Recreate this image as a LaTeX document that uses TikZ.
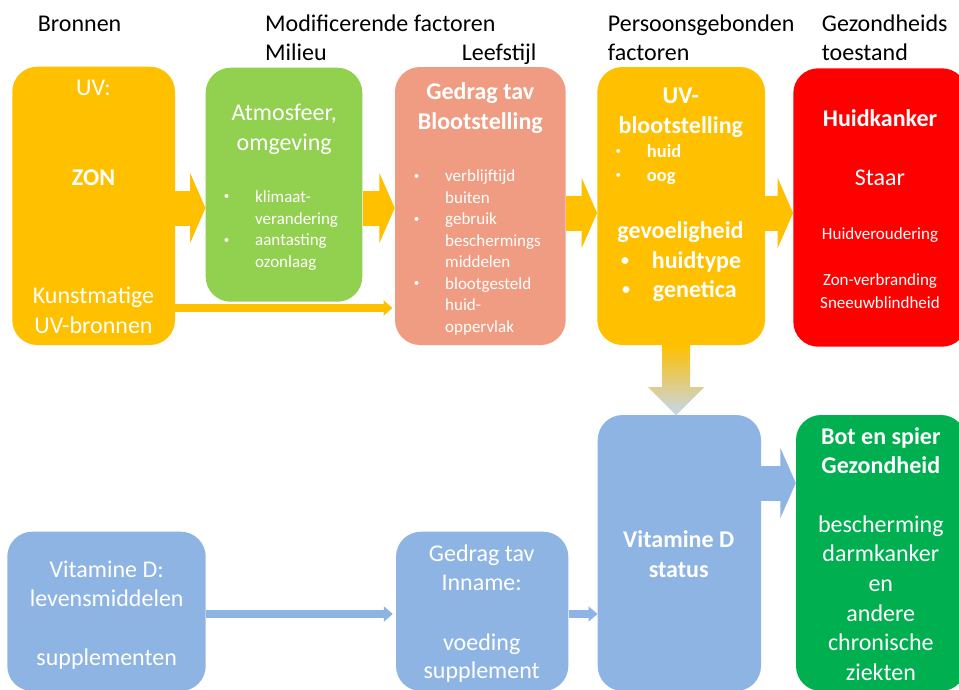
\documentclass[tikz,border=0pt]{standalone}
\usepackage{fontspec}
\setmainfont{Carlito}
\usetikzlibrary{arrows.meta,calc}
\definecolor{cyel}{HTML}{FFC000}
\definecolor{cgrn}{HTML}{92D050}
\definecolor{csal}{HTML}{F09C82}
\definecolor{cred}{HTML}{FF0000}
\definecolor{cblu}{HTML}{8EB4E3}
\definecolor{cdgr}{HTML}{00B050}
\definecolor{cpale}{HTML}{F3EFE8}
\definecolor{cpblu}{HTML}{C6D6EE}
\newcommand{\fbig}{\fontsize{24}{29}\selectfont}
\newcommand{\fsml}{\fontsize{17}{21}\selectfont}
\newcommand{\fmid}{\fontsize{18.5}{22}\selectfont}
\newcommand{\sbul}{\raisebox{2.5pt}{\fontsize{11}{11}\selectfont •}}
\newcommand{\bbul}{\raisebox{3pt}{\fontsize{16}{16}\selectfont\bfseries •}}
\begin{document}
\begin{tikzpicture}[x=1pt,y=-1pt,
 box/.style={rounded corners=25pt, inner sep=0pt, draw=none},
 ln/.style={anchor=base, inner sep=0pt, text=white},
 lnw/.style={anchor=base west, inner sep=0pt, text=white},
 big/.style={font=\fbig}, bigb/.style={font=\fbig\bfseries},
 sml/.style={font=\fsml}, smlb/.style={font=\fmid\bfseries},
 hdr/.style={anchor=base west, inner sep=0pt, font=\fbig, text=black},
 blk/.style={line width=35pt, -{Triangle[length=15.5pt,width=70pt]}},
 thinarr/.style={line width=8pt, -{Triangle[length=9pt,width=15pt]}}
]
\useasboundingbox (0,0) rectangle (959,689);
\clip (0,0) rectangle (959,689);
\fill[white] (0,0) rectangle (959,689);

% headers
\node[hdr] (h1) at (37.7,31.5) {Bronnen};
\node[hdr] (h2) at (265,31.5) {Modificerende factoren};
\node[hdr] (h3) at (265,60) {Milieu};
\node[hdr] (h4) at (461.7,60) {Leefstijl};
\node[hdr] (h5) at (607.7,31.5) {Persoonsgebonden};
\node[hdr] (h6) at (607.7,60) {factoren};
\node[hdr] (h7) at (821.7,31.5) {Gezondheids};
\node[hdr] (h8) at (821.7,60) {toestand};

% boxes
\node[box, fill=cyel, minimum width=162.7, minimum height=278.3] (uv) at (93.65,205.85) {};
\node[box, fill=cgrn, minimum width=156.6, minimum height=234] (grn) at (284,184.7) {};
\node[box, fill=csal, minimum width=170.7, minimum height=278] (sal) at (480.35,206) {};
\node[box, fill=cyel, minimum width=167.7, minimum height=278] (yel) at (681.15,206) {};
\node[box, fill=cred, minimum width=173.7, minimum height=278.4] (red) at (880.15,207.5) {};
\node[box, fill=cblu, minimum width=163.3, minimum height=276] (stat) at (679.35,553) {};
\node[box, fill=cdgr, minimum width=170, minimum height=276] (gbot) at (881,553) {};
\node[box, fill=cblu, minimum width=198.4, minimum height=159.3] (vitd) at (106.5,611.35) {};
\node[box, fill=cblu, minimum width=172.3, minimum height=159.3] (inn) at (482.15,611.35) {};

% connector rows
\coordinate (r1) at (0,208);
\coordinate (r2) at (0,213);
\coordinate (r3) at (0,483);
\coordinate (t1) at (0,308);
\coordinate (t2) at (0,614);

\draw[blk, cyel] (uv.east |- r1) -- (grn.west |- r1);
\draw[blk, cyel] (grn.east |- r1) -- (sal.west |- r1);
\draw[blk, cyel] (sal.east |- r2) -- (yel.west |- r2);
\draw[blk, cyel] (yel.east |- r2) -- (red.west |- r2);
\draw[blk, cblu] (stat.east |- r3) -- (gbot.west |- r3);
\draw[thinarr, cyel] (uv.east |- t1) -- ([xshift=-2.3pt]sal.west |- t1);
\draw[thinarr, cblu] (vitd.east |- t2) -- ([xshift=-3pt]inn.west |- t2);
\draw[thinarr, cblu] (inn.east |- t2) -- (stat.west |- t2);

% gradient arrow down
\coordinate (dtop) at ($(yel.south)+(-5,0)$);
\shade[top color=cyel, middle color=cpale, bottom color=cpblu]
 ($(dtop)+(-14,0)$) -- ($(dtop)+(14,0)$) -- ($(dtop)+(14,42)$) -- ($(dtop)+(28,42)$)
 -- ($(dtop)+(0,70)$) -- ($(dtop)+(-28,42)$) -- ($(dtop)+(-14,42)$) -- cycle;

% UV box text
\node[ln, big] (a1) at (93.5,95.7) {UV:};
\node[ln, bigb] (a2) at (93.5,185) {ZON};
\node[ln, big] (a3) at (93.5,303) {Kunstmatige};
\node[ln, big] (a4) at (93.5,333) {UV-bronnen};

% green box text
\node[ln, big] (b1) at (284.2,120) {Atmosfeer,};
\node[ln, big] (b2) at (284.2,150) {omgeving};
\node[ln] (bb1) at (226.7,202) {\sbul};
\node[ln] (bb2) at (226.7,245.7) {\sbul};
\node[lnw, sml] (b3) at (255,202) {klimaat-};
\node[lnw, sml] (b4) at (255,224) {verandering};
\node[lnw, sml] (b5) at (255,245.7) {aantasting};
\node[lnw, sml] (b6) at (255,267) {ozonlaag};

% salmon box text
\node[ln, bigb] (c1) at (480.3,99.3) {Gedrag tav};
\node[ln, bigb] (c2) at (480.3,129.3) {Blootstelling};
\node[ln] (cb1) at (416.7,181.7) {\sbul};
\node[ln] (cb2) at (416.7,224.5) {\sbul};
\node[ln] (cb3) at (416.7,289) {\sbul};
\node[lnw, sml] (c3) at (445,181.7) {verblijftijd};
\node[lnw, sml] (c4) at (445,203) {buiten};
\node[lnw, sml] (c5) at (445,224.5) {gebruik};
\node[lnw, sml] (c6) at (445,246) {beschermings};
\node[lnw, sml] (c7) at (445,267.5) {middelen};
\node[lnw, sml] (c8) at (445,289) {blootgesteld};
\node[lnw, sml] (c9) at (445,310.5) {huid-};
\node[lnw, sml] (c10) at (445,332) {oppervlak};

% yellow box text
\node[ln, bigb] (d1) at (680.8,103.3) {UV-};
\node[ln, bigb] (d2) at (680.8,133.3) {blootstelling};
\node[ln] (db1) at (618.3,157.3) {\sbul};
\node[ln] (db2) at (618.3,181) {\sbul};
\node[lnw, smlb] (d3) at (646.7,157.3) {huid};
\node[lnw, smlb] (d4) at (646.7,181) {oog};
\node[ln, bigb] (d5) at (680.5,238.3) {gevoeligheid};
\node[ln] (db3) at (625,268.3) {\bbul};
\node[ln] (db4) at (626,297.7) {\bbul};
\node[lnw, bigb] (d6) at (651.7,268.3) {huidtype};
\node[lnw, bigb] (d7) at (652.7,297.7) {genetica};

% red box text
\node[ln, bigb] (e1) at (880,126) {Huidkanker};
\node[ln, big] (e2) at (880,185) {Staar};
\node[ln, sml] (e3) at (880,239.3) {Huidveroudering};
\node[ln, sml] (e4) at (880,285.7) {Zon-verbranding};
\node[ln, sml] (e5) at (880,308.3) {Sneeuwblindheid};

% vitamine D status
\node[ln, bigb] (f1) at (678.7,547.3) {Vitamine D};
\node[ln, bigb] (f2) at (678.7,577.3) {status};

% bottom green
\node[ln, bigb] (g1) at (880.8,444.3) {Bot en spier};
\node[ln, bigb] (g2) at (880.8,473.3) {Gezondheid};
\node[ln, big] (g3) at (880.8,532.7) {bescherming};
\node[ln, big] (g4) at (880.8,561.7) {darmkanker};
\node[ln, big] (g5) at (880.8,591.7) {en};
\node[ln, big] (g6) at (880.8,621.7) {andere};
\node[ln, big] (g7) at (880.8,650.7) {chronische};
\node[ln, big] (g8) at (880.8,680) {ziekten};

% vitamine D sources
\node[ln, big] (k1) at (106.7,577.3) {Vitamine D:};
\node[ln, big] (k2) at (106.7,606) {levensmiddelen};
\node[ln, big] (k3) at (106.7,665.7) {supplementen};

% gedrag inname
\node[ln, big] (m1) at (481.7,561) {Gedrag tav};
\node[ln, big] (m2) at (481.7,590.7) {Inname:};
\node[ln, big] (m3) at (481.7,650) {voeding};
\node[ln, big] (m4) at (481.7,678.3) {supplement};
\end{tikzpicture}
\end{document}
